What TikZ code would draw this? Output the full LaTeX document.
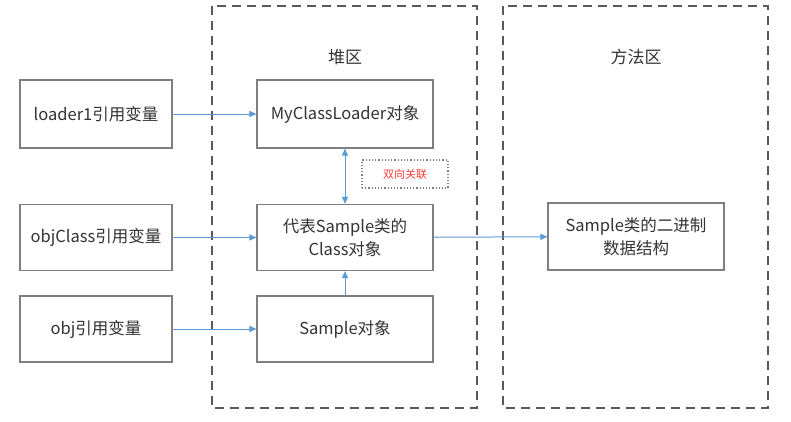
\documentclass[tikz,border=0pt]{standalone}
\usepackage{fontspec}
\setmainfont{Noto Sans CJK SC}
\usetikzlibrary{arrows.meta}
\definecolor{boxline}{HTML}{7F7F7F}
\definecolor{txt}{HTML}{333333}
\definecolor{arr}{HTML}{5B9BD5}
\definecolor{dash}{HTML}{595959}
\definecolor{redt}{HTML}{FF3B3B}
\begin{document}
\begin{tikzpicture}[x=1pt,y=-1pt,
  box/.style={draw=boxline,line width=1.2pt,fill=white,text=txt,font=\fontsize{16.5}{23}\selectfont,align=center,inner sep=0pt},
  region/.style={draw=dash,line width=1.6pt,dash pattern=on 9pt off 6pt},
  title/.style={text=txt,font=\fontsize{17}{20}\selectfont},
  link/.style={draw=arr,line width=1pt,-{Triangle[length=7pt,width=6pt]}},
  tag/.style={draw=boxline,dotted,line width=1.2pt,text=redt,font=\fontsize{11}{13}\selectfont,inner sep=0pt}
]
\useasboundingbox (0,0) rectangle (791,421);
\fill[white] (0,0) rectangle (791,421);
% regions
\draw[region] (212,6) rectangle (477,408);
\draw[region] (503,6) rectangle (768,408);
\node[title] (heap) at (345,57) {堆区};
\node[title] (meth) at (636,57) {方法区};
% left boxes
\node[box,minimum width=152pt,minimum height=68pt] (l1) at (96,114) {loader1引用变量};
\node[box,minimum width=152pt,minimum height=66pt] (oc) at (96,237.5) {objClass引用变量};
\node[box,minimum width=152pt,minimum height=66pt] (ob) at (96,329) {obj引用变量};
% heap boxes
\node[box,minimum width=176pt,minimum height=68pt] (mcl) at (345,114) {MyClassLoader对象};
\node[box,minimum width=176pt,minimum height=66pt] (cls) at (345,237.5) {代表Sample类的\\Class对象};
\node[box,minimum width=176pt,minimum height=66pt] (smp) at (345,329) {Sample对象};
% method box
\node[box,minimum width=176pt,minimum height=67pt] (bin) at (636,236.5) {Sample类的二进制\\数据结构};
% tag
\node[tag,minimum width=86pt,minimum height=28pt] (tg) at (405,174) {双向关联};
% links
\draw[link] (l1) -- (mcl);
\draw[link] (oc) -- (cls);
\draw[link] (ob) -- (smp);
\draw[link] (smp) -- (cls);
\draw[link,{Triangle[length=7pt,width=6pt]}-{Triangle[length=7pt,width=6pt]}] (mcl) -- (cls);
\draw[link] (cls) -- (bin);
\end{tikzpicture}
\end{document}
